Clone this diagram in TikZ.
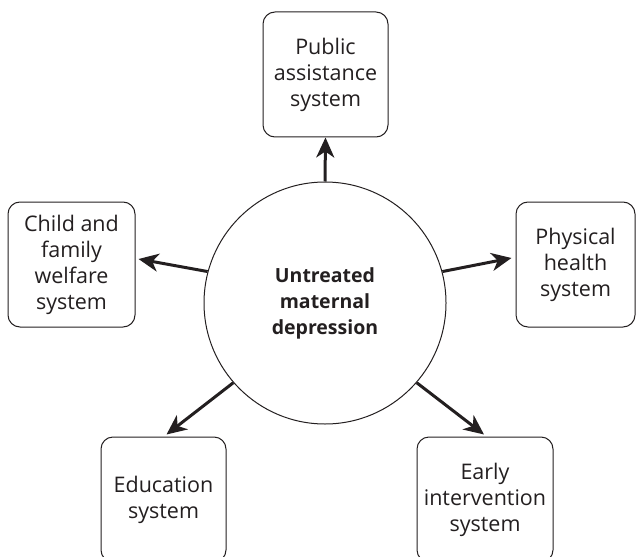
\documentclass[tikz,border=0pt]{standalone}
\usepackage{fontspec}
\setmainfont{Open Sans}
\usetikzlibrary{arrows.meta}
\definecolor{ink}{HTML}{231F20}
\tikzset{
  sysbox/.style={draw=ink, line width=1pt, rounded corners=12pt, inner sep=0pt,
    minimum height=125pt, align=center, text=ink,
    font=\fontsize{21.5}{26}\selectfont},
  hub/.style={circle, draw=ink, line width=1pt, minimum size=242pt, inner sep=0pt,
    align=center, text=ink, font=\bfseries\fontsize{19.5}{26}\selectfont},
  link/.style={draw=ink, line width=3pt, -{Stealth[length=20pt,width=18pt,inset=6pt]}}
}
\begin{document}
\begin{tikzpicture}[x=1pt,y=-1pt]
\useasboundingbox (0,0) rectangle (636,556);
\clip (0,0) rectangle (636,556);
\node[hub] (c) at (325,303) {Untreated\\maternal\\depression};
\node[sysbox, minimum width=125pt] (pub) at (325.5,74.5) {Public\\assistance\\system};
\node[sysbox, minimum width=127pt] (child) at (71.5,264.5) {Child and\\family\\welfare\\system};
\node[sysbox, minimum width=119pt] (phys) at (575.5,264.5) {Physical\\health\\system};
\node[sysbox, minimum width=125pt] (edu) at (163.5,499.5) {Education\\system};
\node[sysbox, minimum width=136pt] (early) at (485,499.5) {Early\\intervention\\system};
\draw[link] (c.north) -- (pub.south);
\draw[link] (c.165) -- ([xshift=3pt,yshift=5.5pt]child.east);
\draw[link] (c.15) -- ([xshift=-4pt,yshift=6.5pt]phys.west);
\draw[link] (c.221) -- ([xshift=3pt,yshift=2pt]edu.north);
\draw[link] (c.319) -- ([xshift=-1pt,yshift=2pt]early.north);
\end{tikzpicture}
\end{document}
